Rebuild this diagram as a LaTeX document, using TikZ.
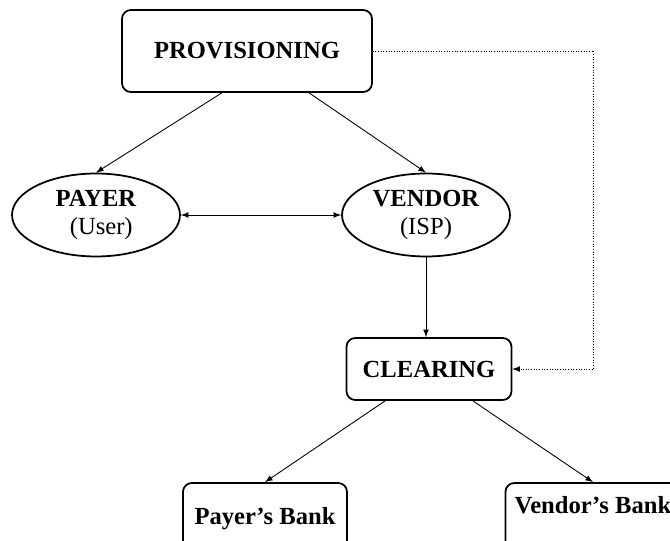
\documentclass[tikz,border=0pt]{standalone}
\usepackage{fontspec}
\setmainfont{Liberation Serif}
\usetikzlibrary{arrows,shapes.geometric}
\begin{document}
\begin{tikzpicture}[x=0.02cm,y=-0.02cm,
  box/.style={rectangle,rounded corners=5pt,draw,line width=1pt,font=\fontsize{14}{16}\selectfont\bfseries},
  party/.style={ellipse,draw,line width=1pt,inner sep=0pt,minimum width=3.36cm,minimum height=1.66cm,align=center,font=\fontsize{14}{16}\selectfont},
  link/.style={line width=0.5pt,-latex}]
              \clip (0,0) rectangle (670,541);
              \node[box,minimum width=5cm,minimum height=1.64cm](prov)at(247,51){PROVISIONING};
              \node[party](payer)at(96,215){\textbf{PAYER}\\\hspace*{6pt}(User)};
              \node[party](vendor)at(426,215){\textbf{VENDOR}\\(ISP)};
              \node[box,minimum width=3.3cm,minimum height=1.24cm](clear)at(429,369){CLEARING};
              \node[box,minimum width=3.28cm,minimum height=1.44cm](pbank)at(265,519){Payer's Bank};
              \node[box,minimum width=3.5cm,minimum height=1.44cm,text depth=0.55cm](vbank)at(593,519){Vendor's Bank};
              \draw[link] (prov.-121) -- (payer.north);
              \draw[link] (prov.-34) -- (vendor.north);
              \draw[line width=0.5pt,latex-latex] (payer.east) -- (vendor.west);
              \draw[link] (vendor.south) -- (vendor.south |- clear.north);
              \draw[link] (clear.216) -- (pbank.north);
              \draw[link] (clear.-36) -- (vbank.north);
              \draw[densely dotted,line width=0.5pt,-latex] (prov.east) -- ++(221,0) |- (clear.east);
            \end{tikzpicture}
\end{document}
